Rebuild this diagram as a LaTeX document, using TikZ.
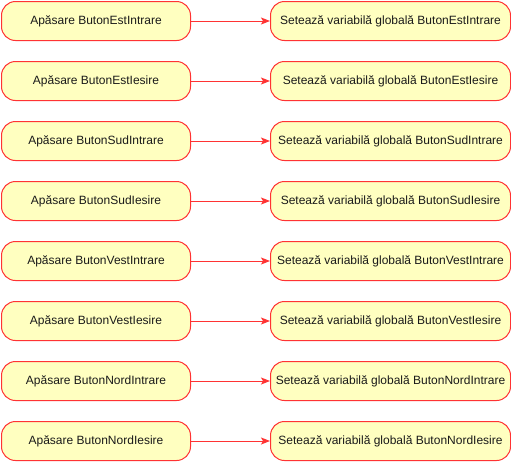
\documentclass[tikz,border=0pt]{standalone}
\usepackage{fontspec}
\setmainfont{Liberation Sans}
\usetikzlibrary{arrows.meta}
\definecolor{boxfill}{HTML}{FFFFC0}
\definecolor{boxline}{HTML}{FF3333}
\definecolor{txt}{HTML}{1A1A1A}
\begin{document}
\begin{tikzpicture}[x=1pt,y=-1pt,
  box/.style={draw=boxline,fill=boxfill,line width=1pt,rounded corners=14pt,text=txt,
    minimum height=39pt,inner sep=0pt,font=\fontsize{12}{14}\selectfont,anchor=north west},
  lbox/.style={box,minimum width=189pt},
  rbox/.style={box,minimum width=240pt},
  conn/.style={draw=boxline,line width=1pt,-{Stealth[length=9pt,width=7pt,inset=2pt]}}]
\useasboundingbox (0,0) rectangle (511,461);
\foreach \i/\n in {0/EstIntrare,1/EstIesire,2/SudIntrare,3/SudIesire,4/VestIntrare,5/VestIesire,6/NordIntrare,7/NordIesire}{
  \node[lbox] (a\i) at (1,{1+60*\i}) {Apăsare Buton\n};
  \node[rbox] (b\i) at (270,{1+60*\i}) {Setează variabilă globală Buton\n};
  \draw[conn] (a\i.east) -- (b\i.west);
}
\end{tikzpicture}
\end{document}
